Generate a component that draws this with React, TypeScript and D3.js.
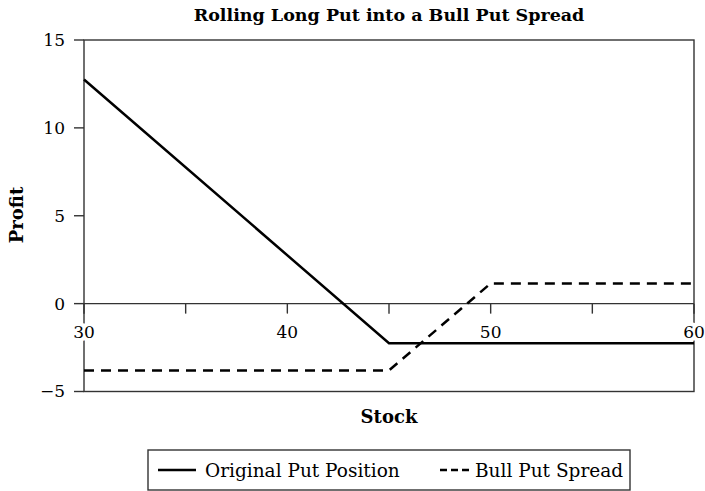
import React from "react";
import * as d3 from "d3";

const title = "Rolling Long Put into a Bull Put Spread";
const xLabel = "Stock";
const yLabel = "Profit";
const xTicksLabeled = [30, 40, 50, 60];
const xTicksAll = [30, 35, 40, 45, 50, 55, 60];
const yTicks = [-5, 0, 5, 10, 15];
const putStock = [30, 45, 60];
const putProfit = [12.75, -2.25, -2.25];
const spreadStock = [30, 45, 50, 60];
const spreadProfit = [-3.8, -3.8, 1.15, 1.15];
const seriesNames = ["Original Put Position", "Bull Put Spread"];

const W = 705;
const H = 491;
const L = 84;
const R = 694;
const T = 40;
const B = 391.5;
const FONT = "'DejaVu Serif', serif";

export default function App() {
  const x = d3.scaleLinear().domain([30, 60]).range([L, R]);
  const y = d3.scaleLinear().domain([-5, 15]).range([B, T]);
  const line = d3
    .line<[number, number]>()
    .x((d) => x(d[0]))
    .y((d) => y(d[1]));
  const putPts = putStock.map((s, i) => [s, putProfit[i]] as [number, number]);
  const spreadPts = spreadStock.map((s, i) => [s, spreadProfit[i]] as [number, number]);
  const y0 = y(0);

  return (
    <svg
      width={W}
      height={H}
      style={{ position: "fixed", left: 0, top: 0, background: "#fff" }}
      fontFamily={FONT}
    >
      <rect x={0} y={0} width={W} height={H} fill="#fff" />
      <text x={(L + R) / 2} y={21} textAnchor="middle" fontWeight="bold" fontSize={17.5}>
        {title}
      </text>
      {/* frame */}
      <rect x={L} y={T} width={R - L} height={B - T} fill="none" stroke="#333" strokeWidth={1.4} />
      {/* zero line */}
      <line x1={L} x2={R} y1={y0} y2={y0} stroke="#333" strokeWidth={1.4} />
      {/* y ticks */}
      {yTicks.map((t) => (
        <g key={"y" + t}>
          <line x1={L - 10} x2={L} y1={y(t)} y2={y(t)} stroke="#333" strokeWidth={1.4} />
          <text x={L - 19} y={y(t)} dy="0.35em" textAnchor="end" fontSize={17}>
            {t < 0 ? "\u2212" + Math.abs(t) : t}
          </text>
        </g>
      ))}
      {/* x ticks */}
      {xTicksAll.map((t) => (
        <line key={"xt" + t} x1={x(t)} x2={x(t)} y1={y0} y2={y0 + 10} stroke="#333" strokeWidth={1.4} />
      ))}
      {xTicksLabeled.map((t) => (
        <text
          key={"xl" + t}
          x={x(t)}
          y={y0 + 34}
          textAnchor="middle"
          fontSize={17}
          stroke="#fff"
          strokeWidth={8}
          paintOrder="stroke"
        >
          {t}
        </text>
      ))}
      {/* series */}
      <path d={line(putPts) || ""} fill="none" stroke="#000" strokeWidth={2.5} />
      <path d={line(spreadPts) || ""} fill="none" stroke="#000" strokeWidth={2.5} strokeDasharray="10,7" />
      {/* axis titles */}
      <text x={(L + R) / 2} y={423} textAnchor="middle" fontWeight="bold" fontSize={18}>
        {xLabel}
      </text>
      <text
        transform={`translate(23,215) rotate(-90)`}
        textAnchor="middle"
        fontWeight="bold"
        fontSize={18}
      >
        {yLabel}
      </text>
      {/* legend */}
      <rect x={148} y={450} width={482} height={40} fill="#fff" stroke="#333" strokeWidth={1.4} />
      <line x1={158} x2={196} y1={470} y2={470} stroke="#000" strokeWidth={2.5} />
      <text x={205} y={477} fontSize={18.5}>
        {seriesNames[0]}
      </text>
      <line x1={440} x2={469} y1={470} y2={470} stroke="#000" strokeWidth={2.5} strokeDasharray="7,4" />
      <text x={475} y={477} fontSize={18.5}>
        {seriesNames[1]}
      </text>
    </svg>
  );
}
